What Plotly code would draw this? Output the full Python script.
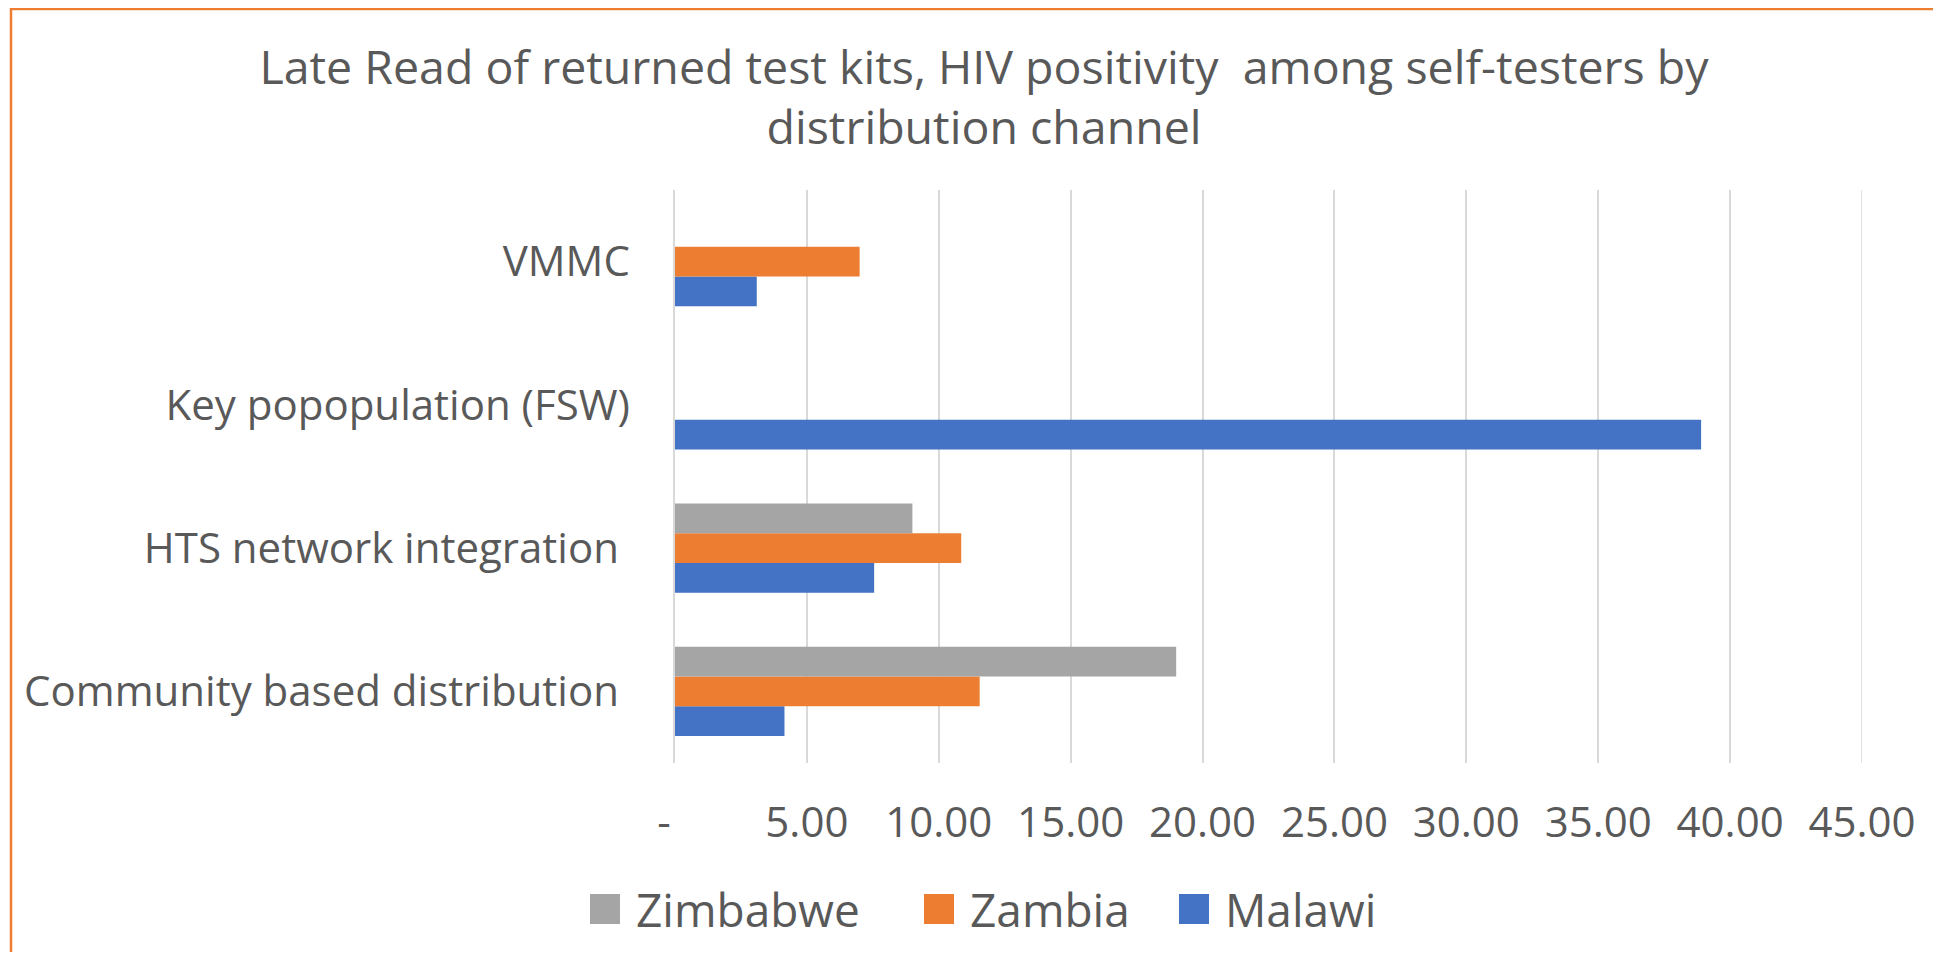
"""
Late read of returned test kits: HIV positivity among self-testers,
by distribution channel (horizontal grouped bars).
"""

import plotly.graph_objects as go

##################################
## Data
##################################

channels = [
    "Community based distribution\u00a0",
    "HTS network integration\u00a0",
    "Key popopulation (FSW)",
    "VMMC",
]

malawi = [4.15, 7.55, 38.9, 3.1]
zambia = [11.55, 10.85, None, 7.0]
zimbabwe = [19.0, 9.0, None, None]

tick_vals = [0, 5, 10, 15, 20, 25, 30, 35, 40, 45]
tick_text = ["-\u00a0\u00a0", "5.00", "10.00", "15.00", "20.00",
             "25.00", "30.00", "35.00", "40.00", "45.00"]

series = [
    # name, values, colour
    ("Malawi", malawi, "#4472C4"),
    ("Zambia", zambia, "#ED7D31"),
    ("Zimbabwe", zimbabwe, "#A5A5A5"),
]

TEXT = "#595959"
FONT = "Open Sans"

# the page body has an 8px margin, so the figure is a bit smaller and
# every pixel position below is given in window coordinates minus OFF
OFF = 8
W, H = 1941 - 2 * OFF, 960 - 2 * OFF
L, T = 675 - OFF, 190 - OFF
R, B = W - (1862 - OFF), H - (763 - OFF)
PW, PH = W - L - R, H - T - B


def px_x(px):
    """window pixel column -> paper x"""
    return (px - OFF - L) / PW


def px_y(py):
    """window pixel row -> paper y"""
    return (H - B - (py - OFF)) / PH


##################################
## Chart
##################################

fig = go.Figure()

for name, vals, color in series:
    fig.add_trace(
        go.Bar(
            y=channels,
            x=vals,
            orientation="h",
            name=name,
            marker=dict(color=color, line=dict(width=0)),
        )
    )

fig.update_layout(
    width=W,
    height=H,
    barmode="group",
    bargap=0.378,
    bargroupgap=0,
    plot_bgcolor="white",
    paper_bgcolor="white",
    font=dict(family=FONT, color=TEXT),
    margin=dict(l=L, r=R, t=T, b=B, autoexpand=False),
    title=dict(
        text="Late Read of returned test kits, HIV positivity  among self-testers by<br>distribution channel",
        font=dict(size=46.5, color=TEXT, family=FONT),
        x=976 / W,
        xanchor="center",
        xref="container",
        y=1 - 76 / H,
        yanchor="top",
        yref="container",
    ),
    showlegend=False,
)

fig.update_xaxes(
    range=[0, 45],
    tickvals=tick_vals,
    ticktext=tick_text,
    showgrid=True,
    gridcolor="#D9D9D9",
    gridwidth=1.5,
    zeroline=False,
    showline=False,
    ticks="",
    tickfont=dict(size=42, color=TEXT),
    ticklabelstandoff=31,
    automargin=False,
    fixedrange=True,
)

fig.update_yaxes(
    showgrid=False,
    showline=True,
    linecolor="#D9D9D9",
    linewidth=1.5,
    ticks="",
    tickfont=dict(size=42, color=TEXT),
    ticklabelstandoff=35,
    automargin=False,
    fixedrange=True,
)

# right-hand gridline at 45 (plotly leaves the range edge bare)
fig.add_shape(
    type="line",
    xref="x", yref="paper",
    x0=45, x1=45, y0=0, y1=1,
    line=dict(color="#D9D9D9", width=1.5),
    layer="below",
)

# legend drawn by hand (Excel-style large square swatches), order as in reference
legend_items = [("Zimbabwe", "#A5A5A5", 590), ("Zambia", "#ED7D31", 924), ("Malawi", "#4472C4", 1179)]
for name, color, x_px in legend_items:
    fig.add_shape(
        type="rect",
        xref="paper", yref="paper",
        x0=px_x(x_px), x1=px_x(x_px + 30),
        y0=px_y(924), y1=px_y(894),
        fillcolor=color,
        line=dict(width=0),
    )
    fig.add_annotation(
        text=name,
        xref="paper", yref="paper",
        x=px_x(x_px + 44), y=px_y(909),
        xanchor="left", yanchor="middle",
        showarrow=False,
        font=dict(size=46, color=TEXT, family=FONT),
    )

# orange chart-area border (top and left edges visible in the crop)
fig.add_shape(
    type="rect",
    xref="paper", yref="paper",
    x0=px_x(11), x1=px_x(1990), y0=px_y(1000), y1=px_y(OFF + 1),
    line=dict(color="#ED7D31", width=2.5),
    fillcolor="rgba(0,0,0,0)",
    layer="below",
)

fig.write_html("out.html")
